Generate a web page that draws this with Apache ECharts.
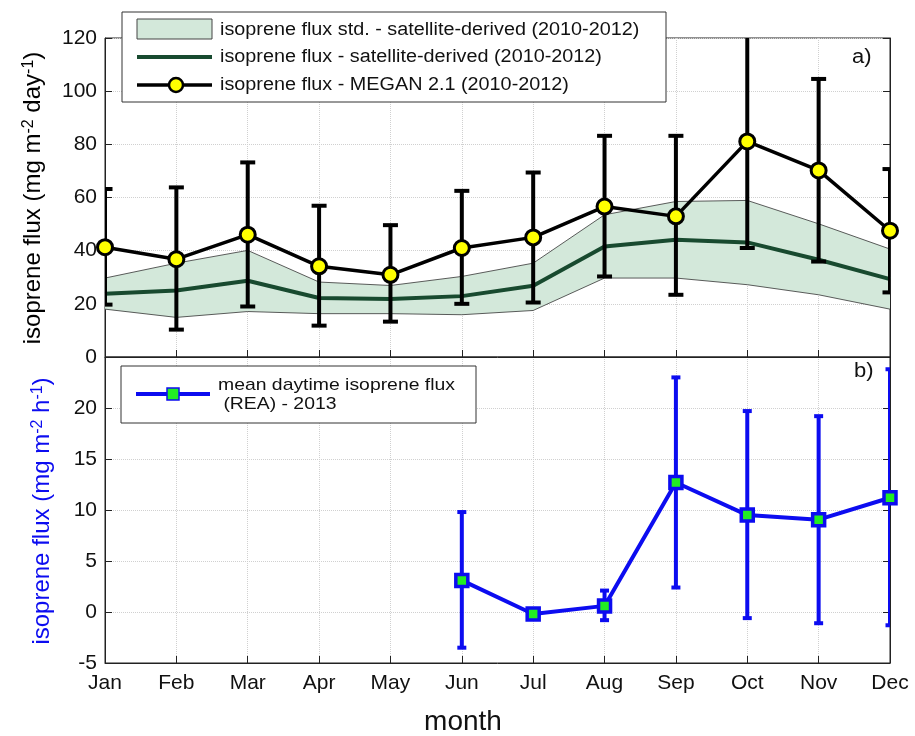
<!DOCTYPE html>
<html>
<head>
<meta charset="utf-8">
<script src="https://cdn.jsdelivr.net/npm/echarts@6/dist/echarts.min.js"></script>
<style>html,body{margin:0;padding:0;background:#fff}#chart{width:915px;height:736px}</style>
</head>
<body>
<div id="chart"></div>
<script>
// ---- data ----
var months = ['Jan','Feb','Mar','Apr','May','Jun','Jul','Aug','Sep','Oct','Nov','Dec'];
var satStdLow  = [18.0, 14.9, 17.1, 16.3, 16.3, 15.9, 17.5, 29.7, 29.7, 27.2, 23.4, 18.0];
var satStdHigh = [29.7, 35.3, 40.1, 28.2, 26.9, 30.3, 35.3, 53.5, 58.5, 58.9, 50.1, 40.6];
var satMean    = [23.8, 25.0, 28.7, 22.2, 21.8, 22.9, 26.8, 41.6, 44.1, 43.1, 36.6, 29.3];
var meganMean  = [41.3, 36.8, 46.0, 34.1, 30.9, 41.0, 45.0, 56.6, 52.9, 81.1, 70.2, 47.5];
var meganLow   = [19.7, 10.3, 19.0, 11.8, 13.3, 20.0, 20.5, 30.3, 23.4, 41.0, 35.9, 24.3];
var meganHigh  = [63.2, 63.8, 73.2, 56.9, 49.6, 62.5, 69.4, 83.2, 83.2, 121.2, 104.6, 70.7];
var reaMean    = [null, null, null, null, null, 3.1, -0.2, 0.6, 12.7, 9.5, 9.05, 11.2];
var reaLow     = [null, null, null, null, null, -3.5, null, -0.8, 2.4, -0.6, -1.1, -1.3];
var reaHigh    = [null, null, null, null, null, 9.8, null, 2.1, 23.0, 19.7, 19.2, 23.8];
var topTicks = [0, 20, 40, 60, 80, 100, 120];
var bottomTicks = [-5, 0, 5, 10, 15, 20];

// ---- build ----
var FONT = 'Liberation Sans, Arial, sans-serif';
var BLUE = '#0c0cf0';
var chart = echarts.init(document.getElementById('chart'), null, {renderer: 'canvas'});

var bandDiff = satStdHigh.map(function (v, i) { return +(v - satStdLow[i]).toFixed(2); });
function errData(lo, hi) {
  var out = [];
  for (var i = 0; i < lo.length; i++) {
    if (lo[i] != null && hi[i] != null) out.push([i, lo[i], hi[i]]);
  }
  return out;
}
function makeErr(color, width, hw) {
  return function (params, api) {
    var cs = params.coordSys;
    var x0 = cs.x, x1 = cs.x + cs.width, y0 = cs.y, y1 = cs.y + cs.height;
    var x = api.value(0);
    var pLo = api.coord([x, api.value(1)]);
    var pHi = api.coord([x, api.value(2)]);
    var st = {stroke: color, lineWidth: width};
    var cx = pLo[0];
    var yTop = Math.max(pHi[1], y0), yBot = Math.min(pLo[1], y1);
    var kids = [{type: 'line', shape: {x1: cx, y1: yBot, x2: cx, y2: yTop}, style: st}];
    var cl = Math.max(cx - hw, x0), cr = Math.min(cx + hw, x1);
    if (pLo[1] <= y1) kids.push({type: 'line', shape: {x1: cl, y1: pLo[1], x2: cr, y2: pLo[1]}, style: st});
    if (pHi[1] >= y0) kids.push({type: 'line', shape: {x1: cl, y1: pHi[1], x2: cr, y2: pHi[1]}, style: st});
    return {type: 'group', children: kids};
  };
}

var L = 105, W = 785;
var axisLine = {show: true, onZero: false, lineStyle: {color: '#222', width: 1}};
var split = {show: true, lineStyle: {color: '#d0d0d0', type: 'dotted', width: 1}};
function xAx(gi, showLabel) {
  return {type: 'category', gridIndex: gi, data: months, boundaryGap: false,
    axisLine: axisLine, axisTick: {inside: true, length: 7, lineStyle: {color: '#222'}},
    axisLabel: {show: showLabel, fontFamily: FONT, fontSize: 21, color: '#111', margin: 10},
    splitLine: split};
}
function yAx(gi, min, max, interval, ticks, pos, showLabel, hideTop) {
  return {type: 'value', gridIndex: gi, min: min, max: max, interval: interval, position: pos,
    axisLine: axisLine, axisTick: {show: true, inside: true, length: 7, lineStyle: {color: '#222'}},
    axisLabel: {show: showLabel, fontFamily: FONT, fontSize: 21, color: '#111', margin: 8,
      formatter: function (v) { return (hideTop && v === max) ? '' : (ticks.indexOf(v) >= 0 ? String(v) : ''); }},
    splitLine: pos === 'left' ? split : {show: false}};
}

var option = {
  backgroundColor: '#fff',
  animation: false,
  grid: [
    {left: L, width: W, top: 38, height: 319, show: true, borderColor: '#222', borderWidth: 1},
    {left: L, width: W, top: 357, height: 306, show: true, borderColor: '#222', borderWidth: 1}
  ],
  xAxis: [xAx(0, false), xAx(1, true)],
  yAxis: [
    yAx(0, 0, 120, 20, topTicks, 'left', true, false),
    yAx(1, -5, 25, 5, bottomTicks, 'left', true, true),
    yAx(0, 0, 120, 20, topTicks, 'right', false, false),
    yAx(1, -5, 25, 5, bottomTicks, 'right', false, true)
  ],
  series: [
    {name: 'stdLow', type: 'line', xAxisIndex: 0, yAxisIndex: 0, stack: 'band', data: satStdLow,
      symbol: 'none', lineStyle: {color: '#333', width: 0.8}, z: 2, silent: true},
    {name: 'isoprene flux std. - satellite-derived (2010-2012)', type: 'line', xAxisIndex: 0, yAxisIndex: 0, stack: 'band', data: bandDiff,
      symbol: 'none', lineStyle: {color: '#333', width: 0.8}, areaStyle: {color: '#d3e8da', opacity: 1}, z: 2, silent: true},
    {name: 'isoprene flux - satellite-derived (2010-2012)', type: 'line', xAxisIndex: 0, yAxisIndex: 0, data: satMean,
      symbol: 'none', lineStyle: {color: '#184a2f', width: 4}, z: 3},
    {name: 'meganErr', type: 'custom', xAxisIndex: 0, yAxisIndex: 0, clip: true,
      data: errData(meganLow, meganHigh), encode: {x: 0, y: [1, 2]},
      renderItem: makeErr('#000', 4, 7.5), z: 4},
    {name: 'isoprene flux - MEGAN 2.1 (2010-2012)', type: 'line', xAxisIndex: 0, yAxisIndex: 0, data: meganMean,
      symbol: 'circle', symbolSize: 15, showAllSymbol: true, clip: false,
      lineStyle: {color: '#000', width: 3.5},
      itemStyle: {color: '#ffff00', borderColor: '#000', borderWidth: 3}, z: 5},
    {name: 'reaErr', type: 'custom', xAxisIndex: 1, yAxisIndex: 1, clip: true,
      data: errData(reaLow, reaHigh), encode: {x: 0, y: [1, 2]},
      renderItem: makeErr(BLUE, 4, 4.5), z: 4},
    {name: 'mean daytime isoprene flux (REA) - 2013', type: 'line', xAxisIndex: 1, yAxisIndex: 1, data: reaMean,
      symbol: 'rect', symbolSize: 12, showAllSymbol: true, clip: false, connectNulls: false,
      lineStyle: {color: BLUE, width: 4},
      itemStyle: {color: '#22ee22', borderColor: BLUE, borderWidth: 3.5}, z: 5}
  ],
  graphic: [
    // top legend
    {type: 'rect', shape: {x: 122, y: 12, width: 544, height: 90}, style: {fill: '#fff', stroke: '#333', lineWidth: 1}, z: 100},
    {type: 'rect', shape: {x: 137, y: 19, width: 75, height: 20}, style: {fill: '#d3e8da', stroke: '#444', lineWidth: 1}, z: 101},
    {type: 'line', shape: {x1: 137, y1: 57, x2: 212, y2: 57}, style: {stroke: '#184a2f', lineWidth: 4}, z: 101},
    {type: 'line', shape: {x1: 137, y1: 85, x2: 212, y2: 85}, style: {stroke: '#000', lineWidth: 3.5}, z: 101},
    {type: 'circle', shape: {cx: 176, cy: 85, r: 7}, style: {fill: '#ffff00', stroke: '#000', lineWidth: 2.5}, z: 102},
    {type: 'text', x: 220, y: 30, scaleX: 1.1, style: {text: 'isoprene flux std. - satellite-derived (2010-2012)', font: '18px ' + FONT, fill: '#111', verticalAlign: 'middle'}, z: 101},
    {type: 'text', x: 220, y: 57, scaleX: 1.1, style: {text: 'isoprene flux - satellite-derived (2010-2012)', font: '18px ' + FONT, fill: '#111', verticalAlign: 'middle'}, z: 101},
    {type: 'text', x: 220, y: 85, scaleX: 1.1, style: {text: 'isoprene flux - MEGAN 2.1 (2010-2012)', font: '18px ' + FONT, fill: '#111', verticalAlign: 'middle'}, z: 101},
    // bottom legend
    {type: 'rect', shape: {x: 121, y: 366, width: 355, height: 57}, style: {fill: '#fff', stroke: '#333', lineWidth: 1}, z: 100},
    {type: 'line', shape: {x1: 136, y1: 394, x2: 210, y2: 394}, style: {stroke: BLUE, lineWidth: 4}, z: 101},
    {type: 'rect', shape: {x: 167, y: 388, width: 12, height: 12}, style: {fill: '#22ee22', stroke: BLUE, lineWidth: 1.5}, z: 102},
    {type: 'text', x: 218, y: 385, scaleX: 1.14, style: {text: 'mean daytime isoprene flux', font: '17px ' + FONT, fill: '#111', verticalAlign: 'middle'}, z: 101},
    {type: 'text', x: 218, y: 404, scaleX: 1.14, style: {text: ' (REA) - 2013', font: '17px ' + FONT, fill: '#111', verticalAlign: 'middle'}, z: 101},
    // panel tags
    {type: 'text', x: 852, y: 57, scaleX: 1.1, style: {text: 'a)', font: '20px ' + FONT, fill: '#111', verticalAlign: 'middle'}, z: 101},
    {type: 'text', x: 854, y: 371, scaleX: 1.1, style: {text: 'b)', font: '20px ' + FONT, fill: '#111', verticalAlign: 'middle'}, z: 101},
    // axis titles
    {type: 'text', x: 33, y: 198, rotation: Math.PI / 2,
      style: {text: '{a|isoprene flux (mg m}{s|-2}{a| day}{s|-1}{a|)}', align: 'center', verticalAlign: 'middle',
        rich: {a: {font: '24px ' + FONT, fill: '#000', verticalAlign: 'bottom'}, s: {font: '16px ' + FONT, fill: '#000', verticalAlign: 'top'}}}},
    {type: 'text', x: 42, y: 511, rotation: Math.PI / 2,
      style: {text: '{a|isoprene flux (mg m}{s|-2}{a| h}{s|-1}{a|)}', align: 'center', verticalAlign: 'middle',
        rich: {a: {font: '24px ' + FONT, fill: BLUE, verticalAlign: 'bottom'}, s: {font: '16px ' + FONT, fill: BLUE, verticalAlign: 'top'}}}},
    {type: 'text', x: 463, y: 722, style: {text: 'month', font: '28px ' + FONT, fill: '#111', align: 'center', verticalAlign: 'middle'}}
  ]
};
chart.setOption(option);
</script>
</body>
</html>
